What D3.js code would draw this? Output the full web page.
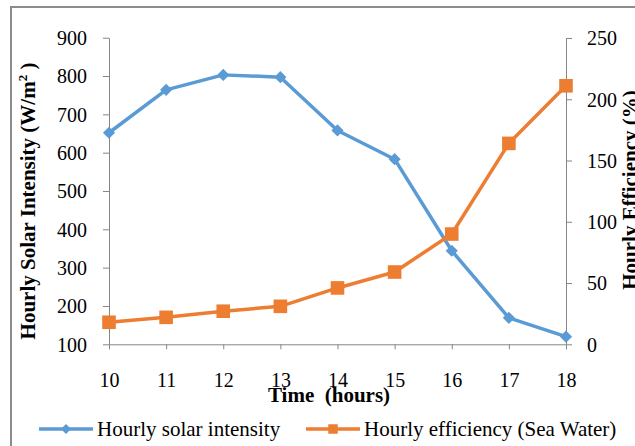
<!DOCTYPE html>
<html><head><meta charset="utf-8">
<script src="https://cdn.jsdelivr.net/npm/d3@7"></script>
</head>
<body style="margin:0;background:#fff">
<svg id="c" width="635" height="446" style="display:block;font-family:'Liberation Serif','Times New Roman',serif"></svg>
<script>
const hours = [10, 11, 12, 13, 14, 15, 16, 17, 18];
const solarIntensity = [652, 764, 803, 797, 658, 583, 344, 169, 120];
const efficiencySea = [18, 22, 27, 31, 46, 59, 90, 164, 211];
const leftTicks = [100, 200, 300, 400, 500, 600, 700, 800, 900];
const rightTicks = [0, 50, 100, 150, 200, 250];
const seriesNames = ["Hourly solar intensity", "Hourly efficiency (Sea Water)"];
const colors = ["#5B9BD5", "#ED7D31"];

const FONT = "'Liberation Serif','Times New Roman',serif";
const svg = d3.select("#c");
const axisColor = "#868686";
const fs = 20;

// outer frame
svg.append("rect").attr("x", 11).attr("y", 7).attr("width", 700).attr("height", 500)
  .attr("fill", "none").attr("stroke", "#8c8c8c").attr("stroke-width", 2);

const x = d3.scalePoint().domain(hours).range([109, 566]).padding(0);
const yL = d3.scaleLinear().domain([100, 900]).range([344.3, 37.7]);
const yR = d3.scaleLinear().domain([0, 250]).range([344.3, 38]);

function styleAxis(g) {
  g.attr("font-family", null).attr("font-size", null);
  g.selectAll("path.domain").attr("stroke", axisColor).attr("stroke-width", 1);
  g.selectAll(".tick line").attr("stroke", axisColor).attr("stroke-width", 1);
  g.selectAll("text").style("font-family", FONT).style("font-size", fs + "px").attr("fill", "#000");
}

const gL = svg.append("g").attr("transform", "translate(109,0)")
  .call(d3.axisLeft(yL).tickValues(leftTicks).tickSize(6).tickSizeOuter(0).tickPadding(16).tickFormat(d3.format("d")));
styleAxis(gL);
gL.selectAll("text").attr("dy", "0.34em");

const gR = svg.append("g").attr("transform", "translate(566,0)")
  .call(d3.axisRight(yR).tickValues(rightTicks).tickSize(6).tickSizeOuter(0).tickPadding(15).tickFormat(d3.format("d")));
styleAxis(gR);
gR.selectAll("text").attr("dy", "0.34em");

const gB = svg.append("g").attr("transform", "translate(0,344.3)")
  .call(d3.axisBottom(x).tickSize(5).tickSizeOuter(0));
styleAxis(gB);
gB.selectAll("text").attr("y", 43).attr("dy", 0);

function txt(sel) { return sel.style("font-family", FONT).attr("fill", "#000"); }

// axis titles
txt(svg.append("text")).attr("transform", "translate(35,201) rotate(-90)")
  .attr("text-anchor", "middle").style("font-size", "21px").attr("font-weight", "bold")
  .call(t => {
    t.append("tspan").text("Hourly Solar Intensity (W/m");
    t.append("tspan").style("font-size", "13px").attr("dy", -8).text("2");
    t.append("tspan").attr("dy", 8).text(" )");
  });
txt(svg.append("text")).attr("transform", "translate(637,190) rotate(-90)")
  .attr("text-anchor", "middle").style("font-size", "21px").attr("font-weight", "bold")
  .text("Hourly Efficiency (%)");
txt(svg.append("text")).attr("x", 329).attr("y", 402).attr("text-anchor", "middle")
  .style("font-size", "21px").attr("font-weight", "bold").style("white-space", "pre")
  .text("Time  (hours)");

// lines
const lineL = d3.line().x((d, i) => x(hours[i])).y(d => yL(d));
const lineR = d3.line().x((d, i) => x(hours[i])).y(d => yR(d));

svg.append("path").datum(solarIntensity).attr("d", lineL)
  .attr("fill", "none").attr("stroke", colors[0]).attr("stroke-width", 3.5).attr("stroke-linejoin", "round");
svg.selectAll(".dia").data(solarIntensity).join("path").attr("class", "dia")
  .attr("d", d3.symbol(d3.symbolSquare, 74)())
  .attr("transform", (d, i) => `translate(${x(hours[i])},${yL(d)}) rotate(45)`)
  .attr("fill", colors[0]);

svg.append("path").datum(efficiencySea).attr("d", lineR)
  .attr("fill", "none").attr("stroke", colors[1]).attr("stroke-width", 3.5).attr("stroke-linejoin", "round");
svg.selectAll(".sq").data(efficiencySea).join("path").attr("class", "sq")
  .attr("d", d3.symbol(d3.symbolSquare, 185)())
  .attr("transform", (d, i) => `translate(${x(hours[i])},${yR(d)})`)
  .attr("fill", colors[1]);

// legend
const leg = [
  {x1: 39, x2: 93, tx: 97, size: 50, rot: 45},
  {x1: 306, x2: 360, tx: 364, size: 90, rot: 0}
];
leg.forEach((l, i) => {
  const g = svg.append("g");
  g.append("line").attr("x1", l.x1).attr("x2", l.x2).attr("y1", 429).attr("y2", 429)
    .attr("stroke", colors[i]).attr("stroke-width", 3.5);
  g.append("path").attr("d", d3.symbol(d3.symbolSquare, l.size)())
    .attr("transform", `translate(${(l.x1 + l.x2) / 2},429) rotate(${l.rot})`).attr("fill", colors[i]);
  txt(g.append("text")).attr("x", l.tx).attr("y", 436).style("font-size", "21px").text(seriesNames[i]);
});
</script></body></html>
